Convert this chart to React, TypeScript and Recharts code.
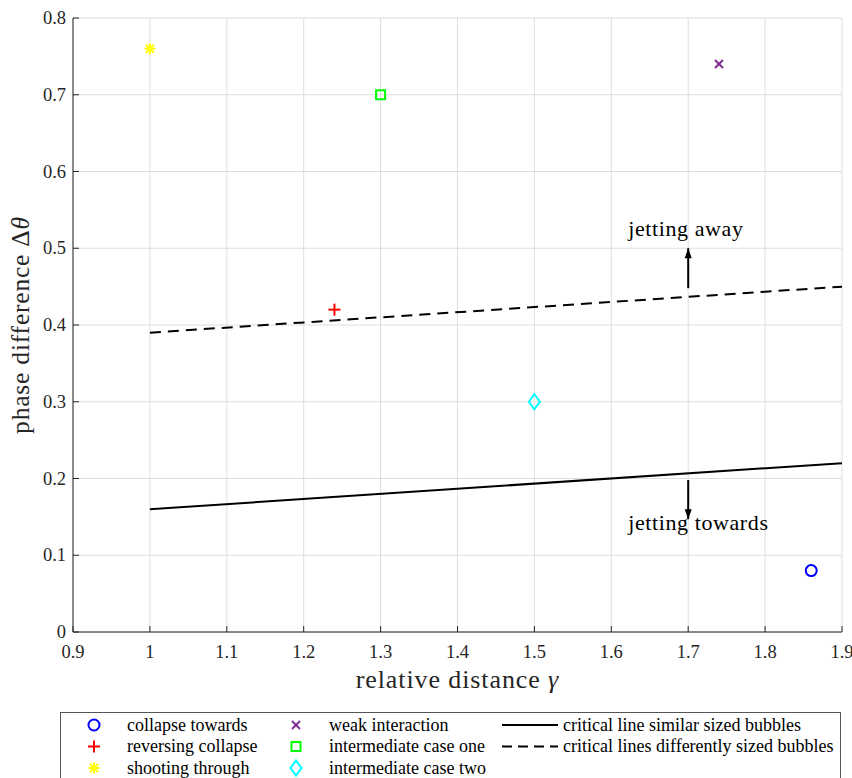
import React from 'react';
import {
  ComposedChart,
  XAxis,
  YAxis,
  CartesianGrid,
  Scatter,
  Line,
  ReferenceLine,
  ReferenceDot,
} from 'recharts';

// ---- data ----
const xTicks = [0.9, 1, 1.1, 1.2, 1.3, 1.4, 1.5, 1.6, 1.7, 1.8, 1.9];
const yTicks = [0, 0.1, 0.2, 0.3, 0.4, 0.5, 0.6, 0.7, 0.8];

const collapseTowards = [{ x: 1.86, y: 0.08 }];
const reversingCollapse = [{ x: 1.24, y: 0.42 }];
const shootingThrough = [{ x: 1.0, y: 0.76 }];
const weakInteraction = [{ x: 1.74, y: 0.74 }];
const intermediateOne = [{ x: 1.3, y: 0.7 }];
const intermediateTwo = [{ x: 1.5, y: 0.3 }];

const criticalSimilar = [
  { x: 1.0, y: 0.16 },
  { x: 1.9, y: 0.22 },
];
const criticalDifferent = [
  { x: 1.0, y: 0.39 },
  { x: 1.9, y: 0.45 },
];

// annotation arrows at gamma = 1.7
const arrowX = 1.7;
const arrowUp = { from: 0.448, to: 0.5 };
const arrowDown = { from: 0.198, to: 0.147 };
const annotations = [
  { text: 'jetting away', y: 0.516 },
  { text: 'jetting towards', y: 0.133 },
];

const FONT = "'Liberation Serif', serif";
const AXIS = '#262626';

type MarkerKind = 'o' | '+' | '*' | 'x' | 's' | 'd';

const markerSeries: { name: string; kind: MarkerKind; color: string; data: { x: number; y: number }[] }[] = [
  { name: 'collapse towards', kind: 'o', color: '#0000ff', data: collapseTowards },
  { name: 'reversing collapse', kind: '+', color: '#ff0000', data: reversingCollapse },
  { name: 'shooting through', kind: '*', color: '#ffff00', data: shootingThrough },
  { name: 'weak interaction', kind: 'x', color: '#7e2f8e', data: weakInteraction },
  { name: 'intermediate case one', kind: 's', color: '#00ff00', data: intermediateOne },
  { name: 'intermediate case two', kind: 'd', color: '#00ffff', data: intermediateTwo },
];

const lineSeries = [
  { name: 'critical line similar sized bubbles', dash: undefined as string | undefined, data: criticalSimilar },
  { name: 'critical lines differently sized bubbles', dash: '11 7', data: criticalDifferent },
];

function Marker({ kind, cx, cy, color }: { kind: MarkerKind; cx: number; cy: number; color: string }) {
  const sw = 2;
  switch (kind) {
    case 'o':
      return <circle cx={cx} cy={cy} r={5.5} fill="none" stroke={color} strokeWidth={sw} />;
    case '+':
      return (
        <g stroke={color} strokeWidth={sw}>
          <line x1={cx - 6} y1={cy} x2={cx + 6} y2={cy} />
          <line x1={cx} y1={cy - 6} x2={cx} y2={cy + 6} />
        </g>
      );
    case '*':
      return (
        <g stroke={color} strokeWidth={sw}>
          <line x1={cx - 5.5} y1={cy} x2={cx + 5.5} y2={cy} />
          <line x1={cx} y1={cy - 5.5} x2={cx} y2={cy + 5.5} />
          <line x1={cx - 4} y1={cy - 4} x2={cx + 4} y2={cy + 4} />
          <line x1={cx - 4} y1={cy + 4} x2={cx + 4} y2={cy - 4} />
        </g>
      );
    case 'x':
      return (
        <g stroke={color} strokeWidth={sw}>
          <line x1={cx - 4} y1={cy - 4} x2={cx + 4} y2={cy + 4} />
          <line x1={cx - 4} y1={cy + 4} x2={cx + 4} y2={cy - 4} />
        </g>
      );
    case 's':
      return <rect x={cx - 4.5} y={cy - 4.5} width={9} height={9} fill="none" stroke={color} strokeWidth={sw} />;
    case 'd':
      return (
        <polygon
          points={`${cx},${cy - 7.5} ${cx + 5.5},${cy} ${cx},${cy + 7.5} ${cx - 5.5},${cy}`}
          fill="none"
          stroke={color}
          strokeWidth={sw}
        />
      );
  }
  return null;
}

const makeShape = (kind: MarkerKind, color: string) => (props: any) =>
  <Marker kind={kind} cx={props.cx} cy={props.cy} color={color} />;

const arrowHead = (dir: 'up' | 'down') => (props: any) => {
  const { cx, cy } = props;
  const s = dir === 'up' ? 1 : -1;
  return (
    <polygon
      points={`${cx},${cy} ${cx - 3.5},${cy + s * 10} ${cx + 3.5},${cy + s * 10}`}
      fill="#000"
    />
  );
};

// annotation text, left edge a fixed distance left of the arrow
const textShape = (text: string) => (props: any) => (
  <text
    x={props.cx - 60}
    y={props.cy}
    textAnchor="start"
    fontFamily={FONT}
    fontSize={22}
    letterSpacing={0.6}
    fill="#000"
  >
    {text}
  </text>
);

const fmt = (v: number) => String(Number(v.toFixed(2)));

const XTick = (p: any) => (
  <text
    x={p.x}
    y={p.y + 20}
    textAnchor="middle"
    fontFamily={FONT}
    fontSize={18.5}
    fill={AXIS}
  >
    {fmt(p.payload.value)}
  </text>
);

const YTick = (p: any) => (
  <text
    x={p.x}
    y={p.y + 6}
    textAnchor="end"
    fontFamily={FONT}
    fontSize={18.5}
    fill={AXIS}
  >
    {fmt(p.payload.value)}
  </text>
);

function Legend() {
  const rows = [0, 1, 2];
  const colX = [34, 236];
  return (
    <div
      style={{
        position: 'absolute',
        left: 60,
        top: 712,
        width: 781,
        height: 90,
        border: '1px solid #555',
        background: '#fff',
        boxSizing: 'border-box',
      }}
    >
      <svg width={781} height={90} style={{ position: 'absolute', left: -1, top: -1 }}>
        {markerSeries.map((s, i) => {
          const col = Math.floor(i / 3);
          const row = rows[i % 3];
          const cy = 13 + row * 21.5;
          return (
            <g key={s.name}>
              <Marker kind={s.kind} cx={colX[col]} cy={cy} color={s.color} />
              <text x={colX[col] + 33} y={cy + 5.5} fontFamily={FONT} fontSize={18} fill="#000">
                {s.name}
              </text>
            </g>
          );
        })}
        {lineSeries.map((s, i) => {
          const cy = 13 + i * 21.5;
          return (
            <g key={s.name}>
              <line x1={442} x2={498} y1={cy} y2={cy} stroke="#000" strokeWidth={2} strokeDasharray={s.dash ? '10 6' : undefined} />
              <text x={503} y={cy + 5.5} fontFamily={FONT} fontSize={18} fill="#000">
                {s.name}
              </text>
            </g>
          );
        })}
      </svg>
    </div>
  );
}

export default function App() {
  return (
    <div
      style={{
        position: 'absolute',
        left: 0,
        top: 0,
        width: 852,
        height: 778,
        overflow: 'hidden',
        background: '#fff',
        fontFamily: FONT,
      }}
    >
      <ComposedChart
        width={852}
        height={778}
        margin={{ top: 18, right: 10, left: 0, bottom: 86 }}
        style={{ fontFamily: FONT }}
      >
        <CartesianGrid stroke="#dedede" strokeWidth={1} />
        <XAxis
          type="number"
          dataKey="x"
          domain={[0.9, 1.9]}
          ticks={xTicks}
          allowDataOverflow
          height={60}
          stroke={AXIS}
          strokeWidth={1}
          tickSize={-6}
          tickMargin={12}
          tick={XTick}
          label={{
            content: (p: any) => {
              const vb = p.viewBox || {};
              return (
                <text
                  x={vb.x + vb.width / 2}
                  y={vb.y + 56}
                  textAnchor="middle"
                  fontFamily={FONT}
                  fontSize={26}
                  letterSpacing={0.9}
                  fill={AXIS}
                >
                  relative distance <tspan fontStyle="italic">γ</tspan>
                </text>
              );
            },
          }}
        />
        <XAxis
          xAxisId="top"
          orientation="top"
          type="number"
          dataKey="x"
          domain={[0.9, 1.9]}
          ticks={xTicks}
          allowDataOverflow
          height={0}
          stroke={AXIS}
          tickSize={-6}
          tick={false}
        />
        <YAxis
          type="number"
          dataKey="y"
          domain={[0, 0.8]}
          ticks={yTicks}
          allowDataOverflow
          width={73}
          stroke={AXIS}
          tickSize={-6}
          tickMargin={13}
          tick={YTick}
          label={{
            content: (p: any) => {
              const vb = p.viewBox || {};
              const cy = vb.y + vb.height / 2;
              return (
                <text
                  x={29}
                  y={cy}
                  transform={`rotate(-90, 29, ${cy})`}
                  textAnchor="middle"
                  fontFamily={FONT}
                  fontSize={25.5}
                  letterSpacing={0.8}
                  fill={AXIS}
                >
                  phase difference Δ<tspan fontStyle="italic">θ</tspan>
                </text>
              );
            },
          }}
        />
        <YAxis
          yAxisId="right"
          orientation="right"
          type="number"
          dataKey="y"
          domain={[0, 0.8]}
          ticks={yTicks}
          allowDataOverflow
          width={0}
          stroke={AXIS}
          tickSize={-6}
          tick={false}
        />

        {lineSeries.map((s) => (
          <Line
            key={s.name}
            name={s.name}
            data={s.data}
            dataKey="y"
            type="linear"
            stroke="#000"
            strokeWidth={2}
            strokeDasharray={s.dash}
            dot={false}
            activeDot={false}
            isAnimationActive={false}
          />
        ))}

        {markerSeries.map((s) => (
          <Scatter
            key={s.name}
            name={s.name}
            data={s.data}
            dataKey="y"
            shape={makeShape(s.kind, s.color)}
            isAnimationActive={false}
          />
        ))}

        <ReferenceLine
          segment={[
            { x: arrowX, y: arrowUp.from },
            { x: arrowX, y: arrowUp.to },
          ]}
          stroke="#000"
          strokeWidth={2}
        />
        <ReferenceDot x={arrowX} y={arrowUp.to} shape={arrowHead('up')} />
        <ReferenceLine
          segment={[
            { x: arrowX, y: arrowDown.from },
            { x: arrowX, y: arrowDown.to },
          ]}
          stroke="#000"
          strokeWidth={2}
        />
        <ReferenceDot x={arrowX} y={arrowDown.to} shape={arrowHead('down')} />
        {annotations.map((a) => (
          <ReferenceDot key={a.text} x={arrowX} y={a.y} shape={textShape(a.text)} />
        ))}
      </ComposedChart>
      <Legend />
    </div>
  );
}
